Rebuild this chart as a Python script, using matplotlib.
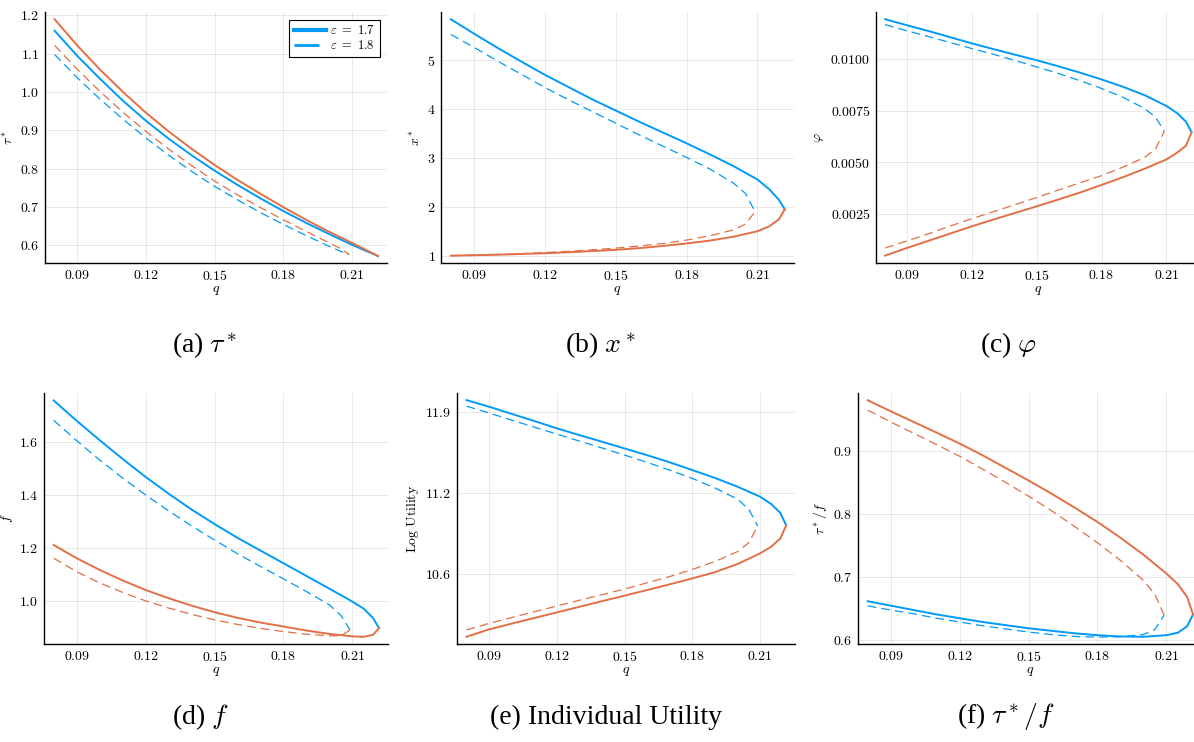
import numpy as np
import matplotlib
matplotlib.use('Agg')
import matplotlib.pyplot as plt
from matplotlib.lines import Line2D

plt.rcParams['mathtext.fontset'] = 'cm'
plt.rcParams['font.family'] = 'Liberation Serif'

# q grid (eps = 1.7 folds at ~0.2216, eps = 1.8 at ~0.209)
q17 = [0.08, 0.09, 0.10, 0.11, 0.12, 0.13, 0.14, 0.15, 0.16, 0.17, 0.18, 0.19, 0.20, 0.21, 0.215, 0.219, 0.2216]
q18 = [0.08, 0.09, 0.10, 0.11, 0.12, 0.13, 0.14, 0.15, 0.16, 0.17, 0.18, 0.19, 0.20, 0.205, 0.209]

# (a) tau*
tau_b17 = [1.16, 1.094, 1.034, 0.977, 0.925, 0.878, 0.835, 0.795, 0.758, 0.723, 0.69, 0.659, 0.63, 0.602, 0.589, 0.579, 0.572]
tau_r17 = [1.19, 1.121, 1.058, 1.0, 0.946, 0.897, 0.852, 0.81, 0.771, 0.735, 0.70, 0.667, 0.636, 0.607, 0.592, 0.580, 0.572]
tau_b18 = [1.098, 1.037, 0.981, 0.929, 0.88, 0.835, 0.793, 0.754, 0.719, 0.686, 0.655, 0.626, 0.598, 0.585, 0.576]
tau_r18 = [1.122, 1.059, 1.001, 0.947, 0.897, 0.851, 0.808, 0.768, 0.732, 0.699, 0.667, 0.637, 0.607, 0.592, 0.576]

# (b) x*
x_b17 = [5.84, 5.54, 5.25, 4.97, 4.70, 4.45, 4.20, 3.97, 3.74, 3.52, 3.30, 3.07, 2.83, 2.56, 2.36, 2.15, 1.95]
x_r17 = [1.0, 1.01, 1.02, 1.035, 1.05, 1.07, 1.095, 1.12, 1.155, 1.2, 1.25, 1.31, 1.39, 1.5, 1.6, 1.74, 1.95]
x_b18 = [5.53, 5.26, 4.98, 4.71, 4.44, 4.19, 3.95, 3.71, 3.47, 3.24, 3.01, 2.77, 2.48, 2.27, 1.9]
x_r18 = [1.0, 1.01, 1.025, 1.04, 1.065, 1.09, 1.12, 1.155, 1.2, 1.25, 1.32, 1.41, 1.53, 1.65, 1.9]

# (c) phi
phi_b17 = [0.01194, 0.01165, 0.01137, 0.01107, 0.01077, 0.01049, 0.01022, 0.00995, 0.00966, 0.00935, 0.00902, 0.00866, 0.00825, 0.00773, 0.00738, 0.00697, 0.00645]
phi_r17 = [0.00047, 0.00084, 0.00119, 0.00154, 0.00189, 0.00222, 0.00254, 0.00286, 0.00319, 0.00353, 0.0039, 0.00428, 0.00469, 0.00514, 0.00547, 0.0058, 0.00645]
phi_b18 = [0.01168, 0.01138, 0.0111, 0.01081, 0.01052, 0.01024, 0.00994, 0.00963, 0.00931, 0.00896, 0.00858, 0.00815, 0.0076, 0.00718, 0.0065]
phi_r18 = [0.00084, 0.00118, 0.00153, 0.0019, 0.00226, 0.0026, 0.00294, 0.00329, 0.00365, 0.004, 0.00435, 0.00477, 0.00524, 0.00565, 0.0065]

# (d) f
f_b17 = [1.757, 1.680, 1.607, 1.536, 1.468, 1.405, 1.345, 1.29, 1.238, 1.19, 1.142, 1.094, 1.046, 0.997, 0.97, 0.935, 0.897]
f_r17 = [1.211, 1.161, 1.117, 1.077, 1.041, 1.01, 0.982, 0.957, 0.936, 0.918, 0.903, 0.888, 0.875, 0.866, 0.864, 0.872, 0.897]
f_b18 = [1.682, 1.605, 1.532, 1.464, 1.40, 1.34, 1.283, 1.23, 1.178, 1.13, 1.083, 1.035, 0.985, 0.945, 0.89]
f_r18 = [1.161, 1.11, 1.068, 1.032, 1.0, 0.973, 0.949, 0.928, 0.911, 0.896, 0.884, 0.874, 0.868, 0.868, 0.89]

# (e) log utility
u_b17 = [11.993, 11.94, 11.883, 11.826, 11.767, 11.713, 11.66, 11.606, 11.552, 11.495, 11.433, 11.37, 11.3, 11.22, 11.16, 11.09, 10.99]
u_r17 = [10.098, 10.157, 10.203, 10.248, 10.293, 10.338, 10.383, 10.427, 10.472, 10.518, 10.565, 10.615, 10.68, 10.765, 10.82, 10.885, 10.99]
u_b18 = [11.945, 11.89, 11.833, 11.777, 11.721, 11.665, 11.61, 11.553, 11.495, 11.432, 11.366, 11.29, 11.2, 11.12, 10.985]
u_r18 = [10.152, 10.205, 10.252, 10.298, 10.344, 10.39, 10.435, 10.48, 10.53, 10.58, 10.637, 10.7, 10.78, 10.85, 10.985]

# (f) tau*/f
r_b17 = [0.661, 0.654, 0.647, 0.640, 0.634, 0.628, 0.623, 0.618, 0.614, 0.610, 0.607, 0.605, 0.6045, 0.607, 0.611, 0.621, 0.64]
r_r17 = [0.9805, 0.963, 0.946, 0.929, 0.9117, 0.893, 0.873, 0.853, 0.832, 0.81, 0.787, 0.762, 0.735, 0.705, 0.688, 0.668, 0.64]
r_b18 = [0.6536, 0.647, 0.641, 0.634, 0.628, 0.622, 0.617, 0.612, 0.608, 0.605, 0.604, 0.6045, 0.608, 0.616, 0.639]
r_r18 = [0.9647, 0.946, 0.928, 0.91, 0.8915, 0.871, 0.85, 0.828, 0.805, 0.78, 0.754, 0.726, 0.694, 0.672, 0.639]

xticks = [0.09, 0.12, 0.15, 0.18, 0.21]

BLUE = '#009AF9'
RED = '#E26F46'


def panel(fig, box, b17, r17, b18, r18, ylim, yticks, ylabels, ylab):
    # box in pixels: left, top, right, bottom
    W, H = 1194.0, 742.0
    l, t, r, b = box
    ax = fig.add_axes([l / W, 1 - b / H, (r - l) / W, (b - t) / H])
    ax.plot(q17, b17, color=BLUE, lw=1.4)
    ax.plot(q17, r17, color=RED, lw=1.4)
    ax.plot(q18, b18, color=BLUE, lw=0.9, dashes=(7, 4))
    ax.plot(q18, r18, color=RED, lw=0.9, dashes=(7, 4))
    ax.set_xlim(0.0758, 0.2255)
    ax.set_ylim(ylim)
    ax.set_xticks(xticks)
    ax.set_xticklabels(['$%.2f$' % v for v in xticks])
    ax.set_yticks(yticks)
    ax.set_yticklabels(['$%s$' % s for s in ylabels])
    ax.tick_params(length=0, labelsize=10, pad=4)
    ax.grid(True, color='black', alpha=0.1, lw=0.6)
    ax.set_axisbelow(True)
    for s in ['top', 'right']:
        ax.spines[s].set_visible(False)
    for s in ['left', 'bottom']:
        ax.spines[s].set_linewidth(1.0)
    ax.set_xlabel('$q$', fontsize=10, labelpad=1)
    ax.set_ylabel(ylab, fontsize=10, labelpad=3)
    return ax


fig = plt.figure(figsize=(11.94, 7.42), dpi=100)

ax_a = panel(fig, (45, 12, 387, 263), tau_b17, tau_r17, tau_b18, tau_r18,
             (0.554, 1.209), [0.6, 0.7, 0.8, 0.9, 1.0, 1.1, 1.2],
             ['0.6', '0.7', '0.8', '0.9', '1.0', '1.1', '1.2'], r'$\tau^*$')
panel(fig, (441, 12, 794, 263), x_b17, x_r17, x_b18, x_r18,
      (0.85, 5.99), [1, 2, 3, 4, 5], ['1', '2', '3', '4', '5'], r'$x^*$')
panel(fig, (876, 12, 1200, 263), phi_b17, phi_r17, phi_b18, phi_r18,
      (0.000113, 0.01229), [0.0025, 0.005, 0.0075, 0.01],
      ['0.0025', '0.0050', '0.0075', '0.0100'], r'$\varphi$')
panel(fig, (44, 393, 388, 644), f_b17, f_r17, f_b18, f_r18,
      (0.837, 1.785), [1.0, 1.2, 1.4, 1.6], ['1.0', '1.2', '1.4', '1.6'], r'$f$')
panel(fig, (457, 393, 795, 644), u_b17, u_r17, u_b18, u_r18,
      (10.04, 12.05), [10.6, 11.25, 11.9], ['10.6', '11.2', '11.9'],
      r'$\mathrm{Log\ Utility}$')
panel(fig, (858, 393, 1202, 644), r_b17, r_r17, r_b18, r_r18,
      (0.593, 0.992), [0.6, 0.7, 0.8, 0.9], ['0.6', '0.7', '0.8', '0.9'], r'$\tau^*/f$')

handles = [Line2D([], [], color=BLUE, lw=3.0),
           Line2D([], [], color=BLUE, lw=2.0, dashes=(9, 3))]
leg = ax_a.legend(handles, [r'$\varepsilon\ =\ 1.7$', r'$\varepsilon\ =\ 1.8$'],
                  loc='upper right', fontsize=9, fancybox=False, framealpha=1,
                  edgecolor='black', handlelength=2.6, handletextpad=0.3,
                  borderpad=0.35, labelspacing=0.2, borderaxespad=0.6)
leg.get_frame().set_linewidth(0.8)

caps = [(205, 345, r'(a) $\tau^*$'), (600, 345, r'(b) $x^*$'), (1008, 345, r'(c) $\varphi$'),
        (200, 717, r'(d) $f$'), (606, 717, '(e) Individual Utility'), (1006, 717, r'(f) $\tau^*/f$')]
for x, y, s in caps:
    fig.text(x / 1194.0, 1 - y / 742.0, s, fontsize=20, ha='center', va='center')

plt.savefig('out.png', dpi=100)
